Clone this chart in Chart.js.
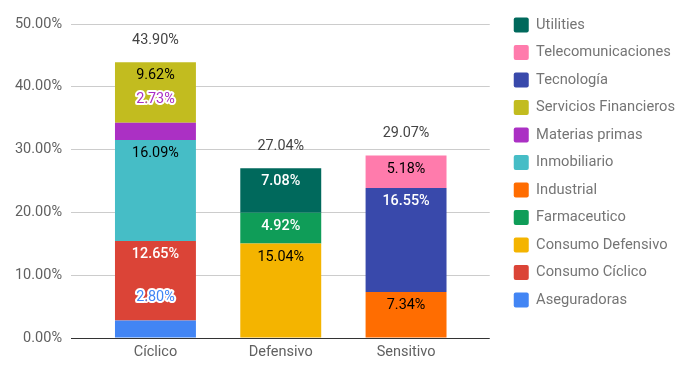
<!DOCTYPE html>
<html>
<head>
<meta charset="utf-8">
<script src="https://cdn.jsdelivr.net/npm/chart.js@4/dist/chart.umd.min.js"></script>
<style>
  html, body { margin: 0; padding: 0; background: #fff; }
  #wrap { width: 690px; height: 372px; position: relative; }
</style>
</head>
<body>
<div id="wrap"><canvas id="c" width="690" height="372"></canvas></div>
<script>
// ---- data ----
const categories = ['Cíclico', 'Defensivo', 'Sensitivo'];
const seriesNames = ['Aseguradoras', 'Consumo Cíclico', 'Consumo Defensivo', 'Farmaceutico', 'Industrial',
  'Inmobiliario', 'Materias primas', 'Servicios Financieros', 'Tecnología', 'Telecomunicaciones', 'Utilities'];
const aseguradoras         = [2.80, null, null];
const consumoCiclico       = [12.65, null, null];
const consumoDefensivo     = [null, 15.04, null];
const farmaceutico         = [null, 4.92, null];
const industrial           = [null, null, 7.34];
const inmobiliario         = [16.09, null, null];
const materiasPrimas       = [2.73, null, null];
const serviciosFinancieros = [9.62, null, null];
const tecnologia           = [null, null, 16.55];
const telecomunicaciones   = [null, null, 5.18];
const utilities            = [null, 7.08, null];
const totals = [43.90, 27.04, 29.07];
const yTicks = [0, 10, 20, 30, 40, 50];

// ---- styles ----
const seriesValues = [aseguradoras, consumoCiclico, consumoDefensivo, farmaceutico, industrial,
  inmobiliario, materiasPrimas, serviciosFinancieros, tecnologia, telecomunicaciones, utilities];
const colors = ['#4285F4', '#DB4437', '#F4B400', '#0F9D58', '#FF6D01',
  '#46BDC6', '#AB30C4', '#C2BC1F', '#3949AB', '#FF7BAC', '#00695C'];
const labelColors = ['#ffffff', '#ffffff', '#000000', '#ffffff', '#000000',
  '#000000', '#ffffff', '#000000', '#ffffff', '#000000', '#ffffff'];

Chart.defaults.font.family = 'Roboto';
Chart.defaults.font.size = 14.5;

const datasets = seriesNames.map((name, k) => ({
  label: name,
  data: seriesValues[k].map((v, i) => v === null ? null : ({ x: i, y: v })).filter(p => p !== null),
  backgroundColor: colors[k],
  borderWidth: 0,
  barPercentage: 0.646,
  categoryPercentage: 1,
  labelColor: labelColors[k]
}));

const labelPlugin = {
  id: 'barLabels',
  afterDatasetsDraw(chart) {
    const ctx = chart.ctx;
    ctx.save();
    ctx.textAlign = 'center';
    ctx.textBaseline = 'middle';
    chart.data.datasets.forEach((ds, di) => {
      const meta = chart.getDatasetMeta(di);
      meta.data.forEach((bar, j) => {
        const v = ds.data[j].y;
        const p = bar.getProps(['x', 'y', 'base'], true);
        const h = p.base - p.y;
        const txt = v.toFixed(2) + '%';
        if (h >= 22) {
          ctx.font = (ds.labelColor === '#ffffff' ? '500 ' : '') + '14.4px Roboto';
          ctx.fillStyle = ds.labelColor;
          ctx.fillText(txt, p.x, p.y + 13.5);
        } else {
          ctx.font = '14.4px Roboto';
          ctx.lineWidth = 4;
          ctx.lineJoin = 'round';
          ctx.strokeStyle = '#ffffff';
          ctx.strokeText(txt, p.x, p.y - 23);
          ctx.fillStyle = ds.backgroundColor;
          ctx.fillText(txt, p.x, p.y - 23);
        }
      });
    });
    const xs = chart.scales.x, ys = chart.scales.y;
    ctx.font = '14.4px Roboto';
    ctx.fillStyle = '#444444';
    totals.forEach((t, i) => {
      ctx.fillText(t.toFixed(2) + '%', xs.getPixelForValue(i), ys.getPixelForValue(t) - 22);
    });
    ctx.restore();
  }
};

new Chart(document.getElementById('c'), {
  type: 'bar',
  data: { datasets },
  plugins: [labelPlugin],
  options: {
    responsive: false,
    animation: false,
    layout: { padding: { top: 5, left: 0, right: 5, bottom: 10 } },
    plugins: {
      tooltip: { enabled: false },
      legend: {
        position: 'right',
        align: 'start',
        reverse: true,
        maxWidth: 200,
        labels: {
          boxWidth: 15,
          boxHeight: 15,
          padding: 12.5,
          color: '#757575',
          useBorderRadius: true,
          borderRadius: 2,
          font: { size: 14.7, family: 'Roboto' }
        }
      }
    },
    scales: {
      x: {
        type: 'linear',
        stacked: true,
        offset: false,
        min: -0.674,
        max: 2.668,
        grid: { display: false, drawTicks: false, offset: false },
        border: { display: false },
        afterBuildTicks(s) { s.ticks = categories.map((c, i) => ({ value: i })); },
        afterFit(s) { s.height = 24; },
        ticks: {
          padding: 6,
          color: '#616161',
          maxRotation: 0,
          autoSkip: false,
          callback: (v) => categories[v]
        }
      },
      y: {
        stacked: true,
        min: 0,
        max: 50,
        afterBuildTicks(s) { s.ticks = yTicks.map(v => ({ value: v })); },
        afterFit(s) { s.width = 71; },
        grid: {
          drawTicks: false,
          color: (c) => c.tick && c.tick.value === 0 ? '#333333' : '#cccccc'
        },
        border: { display: false },
        ticks: {
          padding: 9,
          color: '#616161',
          callback: (v) => v.toFixed(2) + '%'
        }
      },
      padTop: {
        type: 'linear', position: 'top', display: true,
        grid: { display: false, drawTicks: false }, border: { display: false }, ticks: { display: false },
        afterFit(s) { s.height = 19; }
      },
      padRight: {
        type: 'linear', position: 'right', display: true,
        grid: { display: false, drawTicks: false }, border: { display: false }, ticks: { display: false },
        afterFit(s) { s.width = 11.5; }
      }
    }
  }
});
</script>
</body>
</html>
